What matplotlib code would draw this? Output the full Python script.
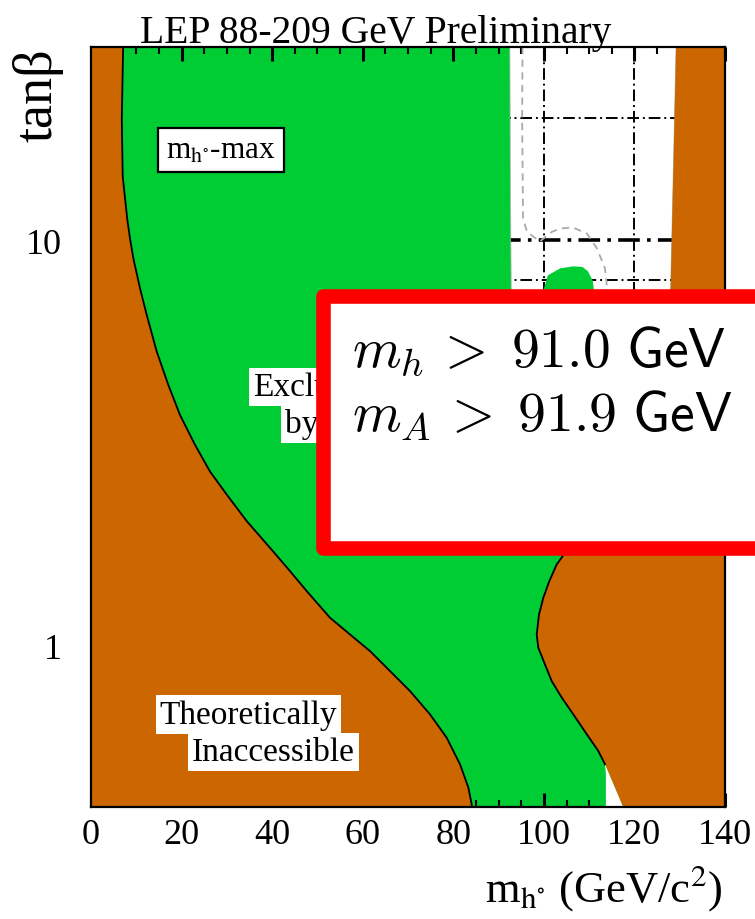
import numpy as np
import matplotlib
matplotlib.use("Agg")
import matplotlib.pyplot as plt
from matplotlib.patches import Polygon, Rectangle
from matplotlib.ticker import FixedLocator, NullFormatter

plt.rcParams['font.family'] = ['Liberation Serif', 'DejaVu Serif']
plt.rcParams['mathtext.fontset'] = 'stix'

GREEN = '#00CC33'
BROWN = '#CC6600'

# ---- data (m_h in GeV, tan beta) ----
# boundary of the theoretically inaccessible region (left)
left_m = [7.1, 6.8, 7.0, 8.0, 8.61, 9.35, 10.82, 12.30, 14.51, 17.07, 19.65, 22.97, 26.28,
          29.97, 34.38, 39.53, 43.94, 47.63, 52.78, 57.19, 61.61, 66.02, 70.44, 74.86,
          78.54, 81.48, 83.32, 84.06, 84.1]
left_tb = [30, 20, 14.4, 11.3, 10.11, 9.03, 7.62, 6.55, 5.32, 4.40, 3.71, 3.13, 2.69,
           2.36, 2.03, 1.744, 1.528, 1.364, 1.172, 1.066, 0.970, 0.866, 0.773, 0.677,
           0.593, 0.510, 0.447, 0.4065, 0.40]

# boundary of the theoretically inaccessible region (right)
right_m = [129.2, 128.6, 128.0, 127.0, 124.0, 118.0, 110.0, 106.4, 104.67, 102.83, 101.20,
           99.88, 98.93, 98.42, 98.77, 100.25, 101.73, 103.94, 106.50, 109.46, 112.02,
           113.5, 117.5]
right_tb = [30, 15, 7.6, 6.0, 4.0, 2.8, 2.1, 1.82, 1.695, 1.586, 1.443,
            1.313, 1.194, 1.066, 0.989, 0.899, 0.818, 0.745, 0.677, 0.605, 0.550,
            0.510, 0.40]

# allowed (white) region at large tan beta
white_left_m = [92.5, 92.6, 92.8, 93.0]
white_left_tb = [30, 15, 7.6, 7.0]
white_right_m = [127.5, 128.0, 128.6, 129.2]
white_right_tb = [7.0, 7.6, 15, 30]

# excluded bump inside the allowed region
bump_m = [99.5, 100.9, 103.6, 106.5, 108.5, 109.7, 110.8, 111.2]
bump_tb = [7.3, 8.2, 8.53, 8.63, 8.6, 8.4, 7.95, 7.3]

# small allowed region at low tan beta
tri_m = [113.5, 113.7, 113.7, 117.5]
tri_tb = [0.510, 0.482, 0.40, 0.40]

# expected limit (grey dashed)
exp_m = [95.3, 95.2, 95.4, 96.3, 99.1, 101.8, 103.6, 106.4, 109.5, 111.7, 113.5, 113.9]
exp_tb = [30, 20, 11.3, 10.5, 9.94, 10.5, 10.7, 10.76, 10.4, 9.56, 8.53, 7.75]

# grid lines drawn inside the allowed region
grid_m = [100, 120]
grid_tb = [20, 10, 8]

x_major = [0, 20, 40, 60, 80, 100, 120, 140]
y_major = [1, 10]
y_minor = [0.5, 0.6, 0.7, 0.8, 0.9, 2, 3, 4, 5, 6, 7, 8, 20]

fig = plt.figure(figsize=(7.55, 9.2), dpi=100)
ax = fig.add_axes([91/755, 1-808/920, (725-91)/755, (808-48)/920])
ax.set_yscale('log')
ax.set_xlim(0, 140)
ax.set_ylim(0.4, 30)
ax.set_facecolor(GREEN)

# white allowed region
wpoly = Polygon(list(zip(white_left_m + white_right_m, white_left_tb + white_right_tb)),
                closed=True, fc='white', ec='#bbbbbb', lw=0.6, zorder=1)
ax.add_patch(wpoly)

# grid lines clipped to the white region
for g in grid_tb:
    ln, = ax.plot([90, 131], [g, g], color='black', lw=2.6 if g == 10 else 1.4,
                  ls=(0, (6, 2, 1, 2)), zorder=2)
    ln.set_clip_path(wpoly)
for g in grid_m:
    ln, = ax.plot([g, g], [0.4, 30], color='black', lw=1.4, ls=(0, (6, 2, 1, 2)), zorder=2)
    ln.set_clip_path(wpoly)

# expected limit
ax.plot(exp_m, exp_tb, color='#aaaaaa', lw=1.3, ls=(0, (4, 3)), zorder=2)

# excluded bump
ax.fill(bump_m, bump_tb, color=GREEN, zorder=3, lw=0)

# left theoretically inaccessible region
ax.fill([0] + left_m + [0], [30] + left_tb + [0.4], color=BROWN, zorder=4, lw=0)
ax.plot(left_m, left_tb, color='black', lw=1.3, zorder=5)

# right theoretically inaccessible region
ax.fill([140] + right_m + [140], [30] + right_tb + [0.4], color=BROWN, zorder=4, lw=0)
ax.plot(right_m[6:-1], right_tb[6:-1], color='black', lw=1.3, zorder=5)
ax.fill(tri_m, tri_tb, color='white', zorder=4, lw=0)

# ticks
ax.xaxis.set_major_locator(FixedLocator(x_major))
ax.xaxis.set_minor_locator(FixedLocator(np.arange(0, 141, 5)))
ax.yaxis.set_major_locator(FixedLocator(y_major))
ax.yaxis.set_minor_locator(FixedLocator(y_minor))
ax.yaxis.set_minor_formatter(NullFormatter())
ax.set_xticklabels([str(v) for v in x_major])
ax.set_yticklabels([str(v) for v in y_major])
ax.tick_params(which='both', direction='in', top=True, right=True, labelsize=26)
ax.tick_params(which='major', length=10, width=2.2)
ax.tick_params(which='minor', length=5, width=1.5)
ax.tick_params(axis='y', which='major', pad=21)
ax.tick_params(axis='x', which='major', pad=8)
for s in ax.spines.values():
    s.set_linewidth(1.6)
    s.set_zorder(10)

# labels inside the plot
ax.text(16.6, 16.0, r'm$_{\mathrm{h^{\circ}}}$-max', fontsize=22.5, va='baseline', ha='left',
        zorder=8, bbox=dict(boxstyle='square,pad=0.25', fc='white', ec='black', lw=1.6))
lab_kw = dict(fontsize=24, va='baseline', ha='left', zorder=8,
              bbox=dict(boxstyle='square,pad=0.12', fc='white', ec='none'))
ax.text(35.8, 4.15, 'Excluded', **lab_kw)
ax.text(42.8, 3.37, 'by LEP', **lab_kw)
ax.text(15.2, 0.645, 'Theoretically', **lab_kw)
ax.text(22.3, 0.521, 'Inaccessible', **lab_kw)

# title and axis labels
fig.text(140/755, 1-43/920, 'LEP 88-209 GeV Preliminary', fontsize=28.5,
         va='baseline', ha='left')
fig.text(38/755, 1-95/920, 'tanβ', fontsize=39, rotation=90, ha='center', va='center')
fig.text(723/755, 1-902/920, r'm$_{\mathrm{h^{\circ}}}$ (GeV/c$^{2}$)', fontsize=32,
         ha='right', va='baseline')

# red highlight box
rect = Rectangle((323/755, 1-548.5/920), (820-323)/755, 252/920, transform=fig.transFigure,
                 fc='white', ec='#FF0000', lw=10.5, joinstyle='round', zorder=20)
fig.add_artist(rect)
fig.text(352/755, 1-367/920, r'$m_h\,>\;91.0\ \mathsf{GeV}$', fontsize=40,
         math_fontfamily='cm', va='baseline', ha='left', zorder=21)
fig.text(352/755, 1-432/920, r'$m_A\,>\;91.9\ \mathsf{GeV}$', fontsize=40,
         math_fontfamily='cm', va='baseline', ha='left', zorder=21)

fig.savefig('out.png', dpi=100)
